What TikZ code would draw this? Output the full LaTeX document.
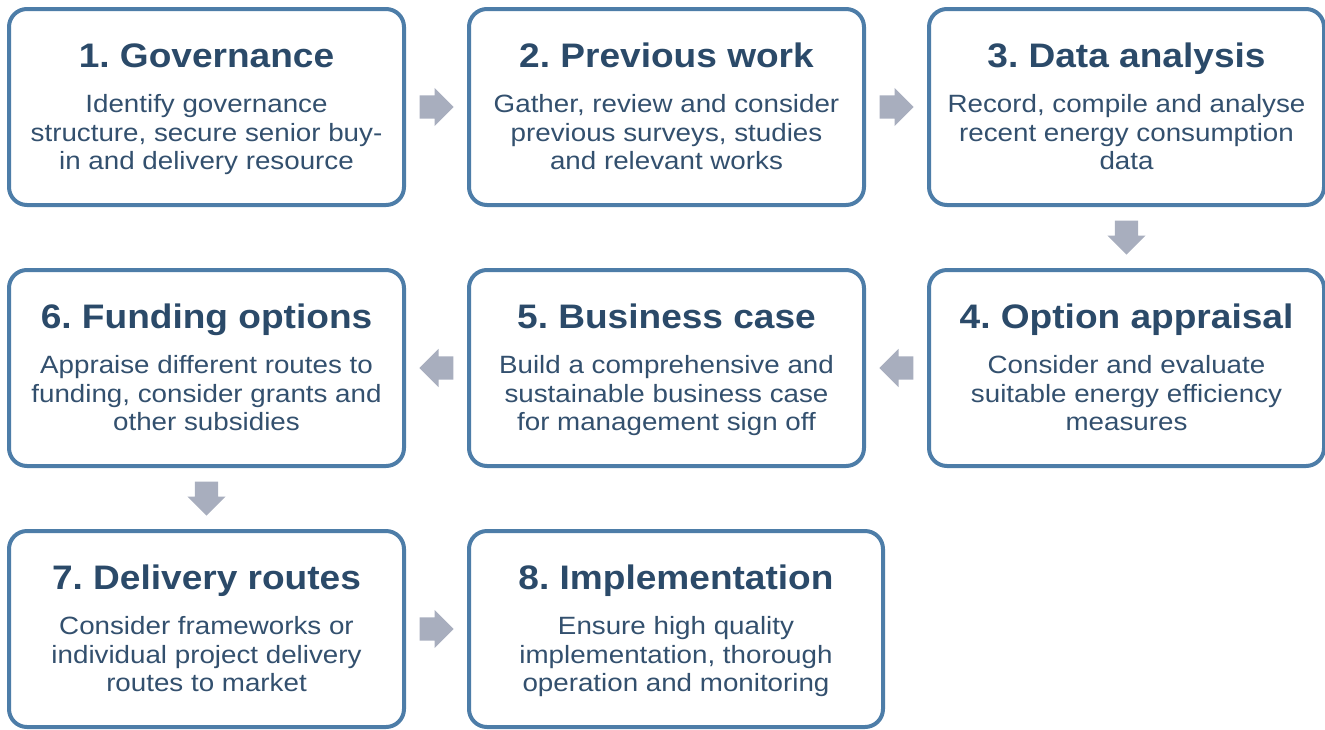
\documentclass[tikz,border=0pt]{standalone}
\usepackage{fontspec}
\setmainfont{Liberation Sans}[FakeStretch=1.11]
\newfontfamily\titlefamily{Liberation Sans}[FakeStretch=1.09]
\usetikzlibrary{shapes.arrows,calc}
\frenchspacing

\definecolor{stageblue}{HTML}{4D7DA8}
\definecolor{stagenavy}{HTML}{2B4A69}
\definecolor{stagetext}{HTML}{33506E}
\definecolor{flowgrey}{HTML}{A8AEBE}

\newcommand\stagetitle[1]{{\titlefamily\fontsize{34}{40}\selectfont\bfseries\color{stagenavy}#1}\\[17pt]}

\begin{document}
\begin{tikzpicture}[x=1pt, y=1pt,
  stage/.style={draw=stageblue, line width=4pt, rounded corners=18pt, fill=white,
    minimum width=395pt, minimum height=196pt, inner sep=0pt, align=center,
    text=stagetext, font=\fontsize{25}{28.5}\selectfont,
    text height=127pt, text depth=2pt},
  flow/.style={single arrow, fill=flowgrey, draw=none, minimum height=34pt,
    inner xsep=0pt, inner ysep=11.5pt, single arrow head extend=7.5pt, anchor=tail}]
  \useasboundingbox (0,0) rectangle (1325,-729);

  \node[stage] (gov) at (206.5,-107) {\stagetitle{1. Governance}Identify governance\\structure, secure senior buy-\\in and delivery resource};
  \node[stage] (prev) at (666.5,-107) {\stagetitle{2. Previous work}Gather, review and consider\\previous surveys, studies\\and relevant works};
  \node[stage] (data) at (1126.5,-107) {\stagetitle{3. Data analysis}Record, compile and analyse\\recent energy consumption\\data};
  \node[stage] (option) at (1126.5,-368) {\stagetitle{4. Option appraisal}Consider and evaluate\\suitable energy efficiency\\measures};
  \node[stage] (business) at (666.5,-368) {\stagetitle{5. Business case}Build a comprehensive and\\sustainable business case\\for management sign off};
  \node[stage] (funding) at (206.5,-368) {\stagetitle{6. Funding options}Appraise different routes to\\funding, consider grants and\\other subsidies};
  \node[stage] (delivery) at (206.5,-629) {\stagetitle{7. Delivery routes}Consider frameworks or\\individual project delivery\\routes to market};
  \node[stage, minimum width=414pt] (impl) at (676,-629) {\stagetitle{8. Implementation}Ensure high quality\\implementation, thorough\\operation and monitoring};

  % block arrows, tail set back half a length from the gap's middle
  \node[flow] (gov-prev) at ($(gov.east)!0.5!(prev.west)!17pt!(gov.east)$) {};
  \node[flow] (prev-data) at ($(prev.east)!0.5!(data.west)!17pt!(prev.east)$) {};
  \node[flow, rotate=-90] (data-option) at ($(data.south)!0.5!(option.north)!17pt!(data.south)$) {};
  \node[flow, rotate=180] (option-business) at ($(option.west)!0.5!(business.east)!17pt!(option.west)$) {};
  \node[flow, rotate=180] (business-funding) at ($(business.west)!0.5!(funding.east)!17pt!(business.west)$) {};
  \node[flow, rotate=-90] (funding-delivery) at ($(funding.south)!0.5!(delivery.north)!17pt!(funding.south)$) {};
  \node[flow] (delivery-impl) at ($(delivery.east)!0.5!(delivery.east-|impl.west)!17pt!(delivery.east)$) {};
\end{tikzpicture}
\end{document}
